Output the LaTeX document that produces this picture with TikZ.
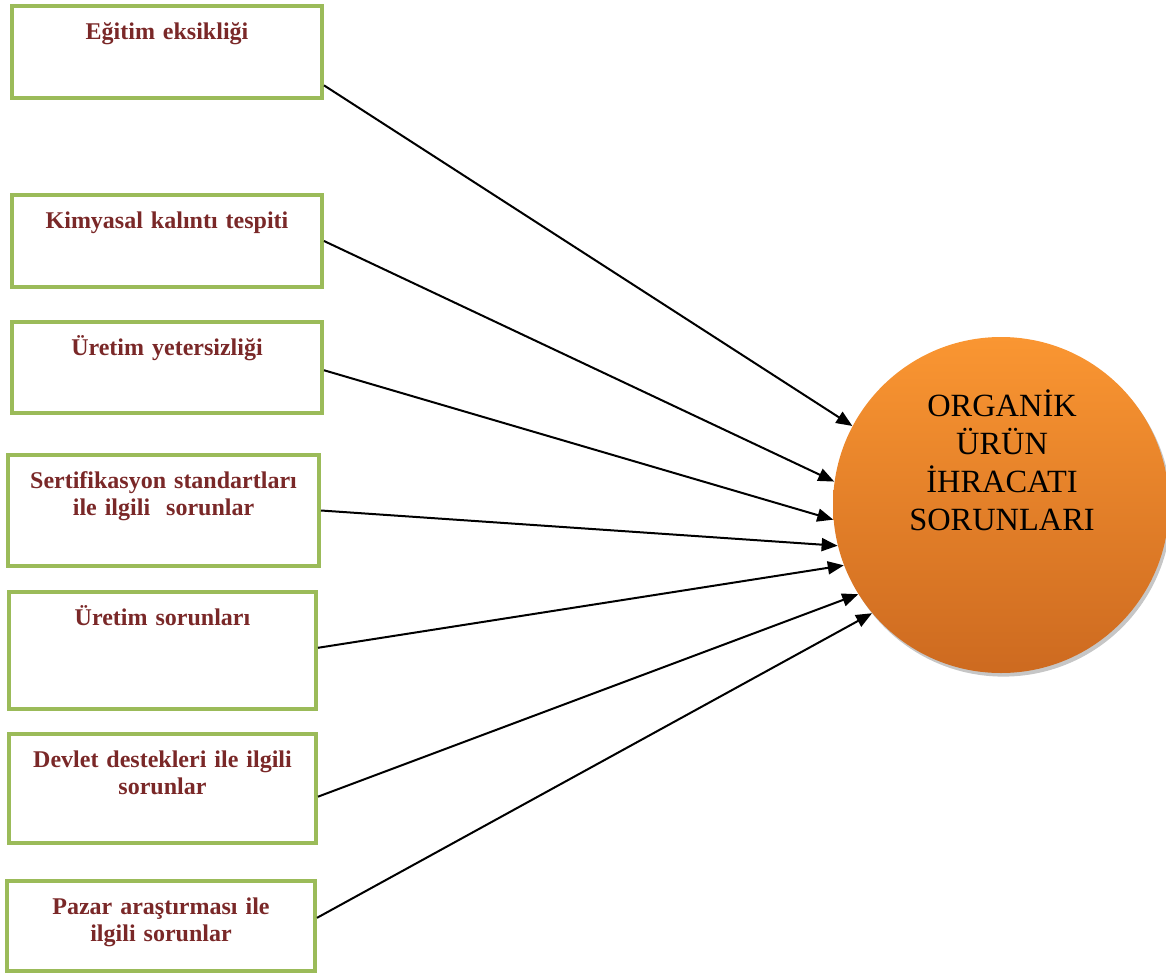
\documentclass[tikz,border=0pt]{standalone}
\usepackage{fontspec}
\setmainfont{Liberation Serif}
\usetikzlibrary{arrows.meta, shadows, positioning}
\definecolor{boxgreen}{RGB}{155,187,89}
\definecolor{boxtext}{RGB}{122,40,40}
\definecolor{orgtop}{RGB}{250,150,50}
\definecolor{orgbottom}{RGB}{205,106,32}
\tikzstyle{problem} = [rectangle, draw=boxgreen, line width=2pt, fill=white, anchor=north west, inner sep=0pt, text width=155pt, align=center, text height=16.75pt, font=\fontsize{12}{13.6}\selectfont\bfseries, text=boxtext]
\tikzstyle{topic} = [circle, minimum size=168pt, inner sep=0pt, top color=orgtop, bottom color=orgbottom, drop shadow={shadow xshift=1.2pt, shadow yshift=-1.8pt, opacity=0.45, fill=gray}]
\tikzstyle{arrow} = [line width=1pt, -{Triangle[length=8pt,width=6.5pt]}]

\begin{document}
\begin{tikzpicture}[x=0.5pt, y=-0.5pt]
        \useasboundingbox (0,0) rectangle (1166,979);
        \node[problem, text depth=29.25pt] (egitim) at (10,4) {Eğitim eksikliği};
        \node[problem, text depth=29.25pt] (kimyasal) at (10,193) {Kimyasal kalıntı tespiti};
        \node[problem, text depth=28.75pt] (yetersiz) at (10,320) {Üretim yetersizliği};
        \node[problem, text depth=38.75pt, text width=155.5pt] (sertifika) at (6,453) {Sertifikasyon standartları\\ ile ilgili\ \ sorunlar};
        \node[problem, text depth=41.75pt, text width=153.5pt] (uretim) at (7,590) {Üretim sorunları};
        \node[problem, text depth=37.75pt, text width=153.5pt] (devlet) at (7,732) {Devlet destekleri ile ilgili\\ sorunlar};
        \node[problem, text depth=28.25pt, text width=154pt] (pazar) at (5,879) {Pazar araştırması ile\\ ilgili sorunlar};
        \node[topic] (org) at (1001,505) {};
        \node[align=center, font=\fontsize{16.2}{19}\selectfont] (orgtext) at ([xshift=0.5pt, yshift=22.5pt]org.center) {ORGANİK\\ ÜRÜN\\ İHRACATI\\ SORUNLARI};
        \draw[arrow] (egitim.-12) -- (org.152);
        \draw[arrow] (kimyasal.east) -- (org.172);
        \draw[arrow] (yetersiz.-1) -- (org.185);
        \draw[arrow] (sertifika.east) -- (org.194);
        \draw[arrow] (uretim.1) -- (org.201);
        \draw[arrow] (devlet.-3) -- (org.212);
        \draw[arrow] (pazar.3) -- (org.220);
    \end{tikzpicture}
\end{document}
